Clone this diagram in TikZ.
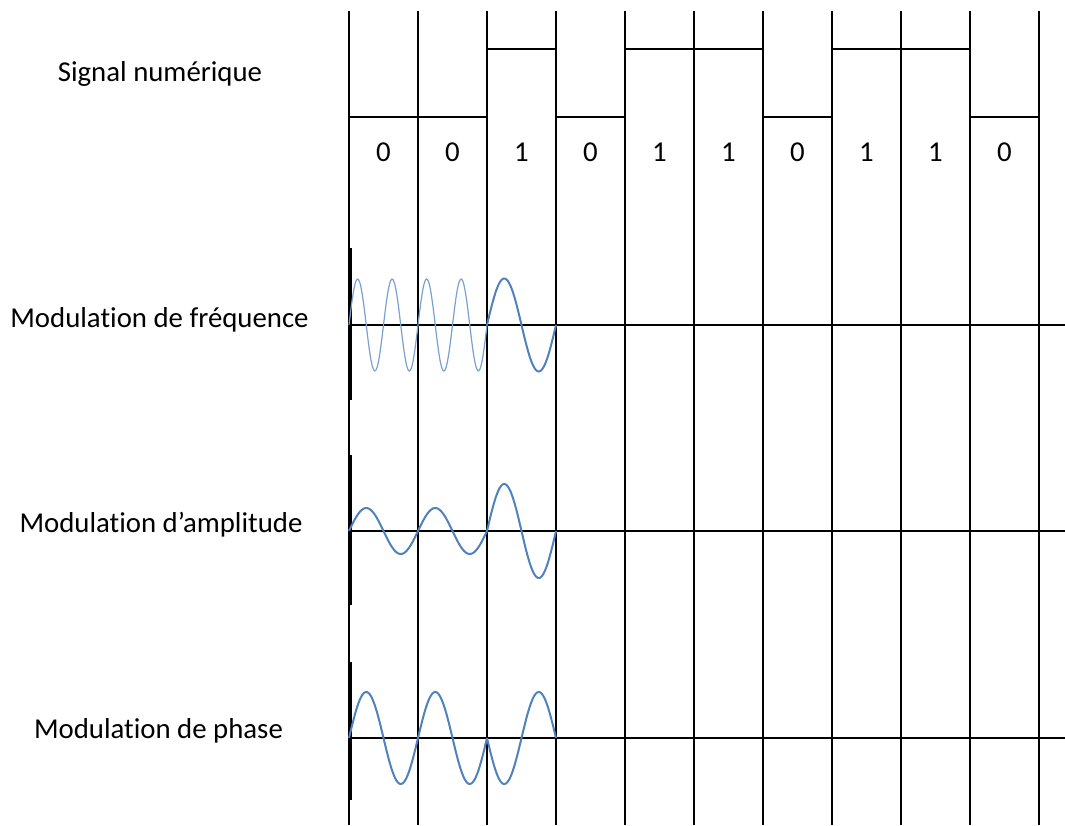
\documentclass[tikz,border=0pt]{standalone}
\usepackage{fontspec}
\setmainfont{Carlito}[Ligatures=NoCommon]
\definecolor{wave}{RGB}{79,129,189}
\definecolor{wavelight}{RGB}{120,160,210}
\begin{document}
\begin{tikzpicture}[x=1pt,y=-1pt,
  grid/.style={black,line width=2pt},
  sig/.style={black,line width=2pt},
  wv/.style={wave,line width=2pt,smooth,samples=60},
  wvthin/.style={wavelight,line width=1.2pt,smooth,samples=60},
  lbl/.style={anchor=base,font=\fontsize{28.8}{30}\selectfont,inner sep=0pt},
  bit/.style={anchor=base,font=\fontsize{28.8}{30}\selectfont,inner sep=0pt}]
\useasboundingbox (0,0) rectangle (1065,825);
% labels
\node[lbl] (l1) at (160,81) {Signal numérique};
\node[lbl] (l2) at (159.5,327) {Modulation de fréquence};
\node[lbl] (l3) at (161,532) {Modulation d’amplitude};
\node[lbl] (l4) at (158.5,738) {Modulation de phase};
% vertical grid lines
\foreach \i in {0,...,10} {
  \draw[grid] ({349+69*\i},11) -- ({349+69*\i},825);
}
% short axis lines of wave plots
\draw[grid] (350.5,248) -- (350.5,400);
\draw[grid] (350.5,455) -- (350.5,605);
\draw[grid] (350.5,662) -- (350.5,800);
% horizontal axes
\foreach \y in {325,531,738} {
  \draw[grid] (349,\y) -- (1065,\y);
}
% digital signal
\draw[sig] (349,117) -- (487,117) -- (487,49) -- (556,49) -- (556,117) -- (625,117)
  -- (625,49) -- (763,49) -- (763,117) -- (832,117) -- (832,49) -- (970,49)
  -- (970,117) -- (1039,117);
% bits
\foreach \b [count=\i from 0] in {0,0,1,0,1,1,0,1,1,0} {
  \node[bit] (b\i) at ({383.5+69*\i},161) {\b};
}
% FM
\draw[wvthin,domain=0:138,samples=120] plot ({349+\x},{325-46*sin(360*(\x/34.5))});
\draw[wv,domain=0:69] plot ({487+\x},{325-46.5*sin(360*(\x/69))});
% AM
\draw[wv,domain=0:138,samples=100] plot ({349+\x},{531-23*sin(360*(\x/69))});
\draw[wv,domain=0:69] plot ({487+\x},{531-47*sin(360*(\x/69))});
% PM
\draw[wv,domain=0:138,samples=100] plot ({349+\x},{738-46*sin(360*(\x/69))});
\draw[wv,domain=0:69] plot ({487+\x},{738+46*sin(360*(\x/69))});
\end{tikzpicture}
\end{document}
